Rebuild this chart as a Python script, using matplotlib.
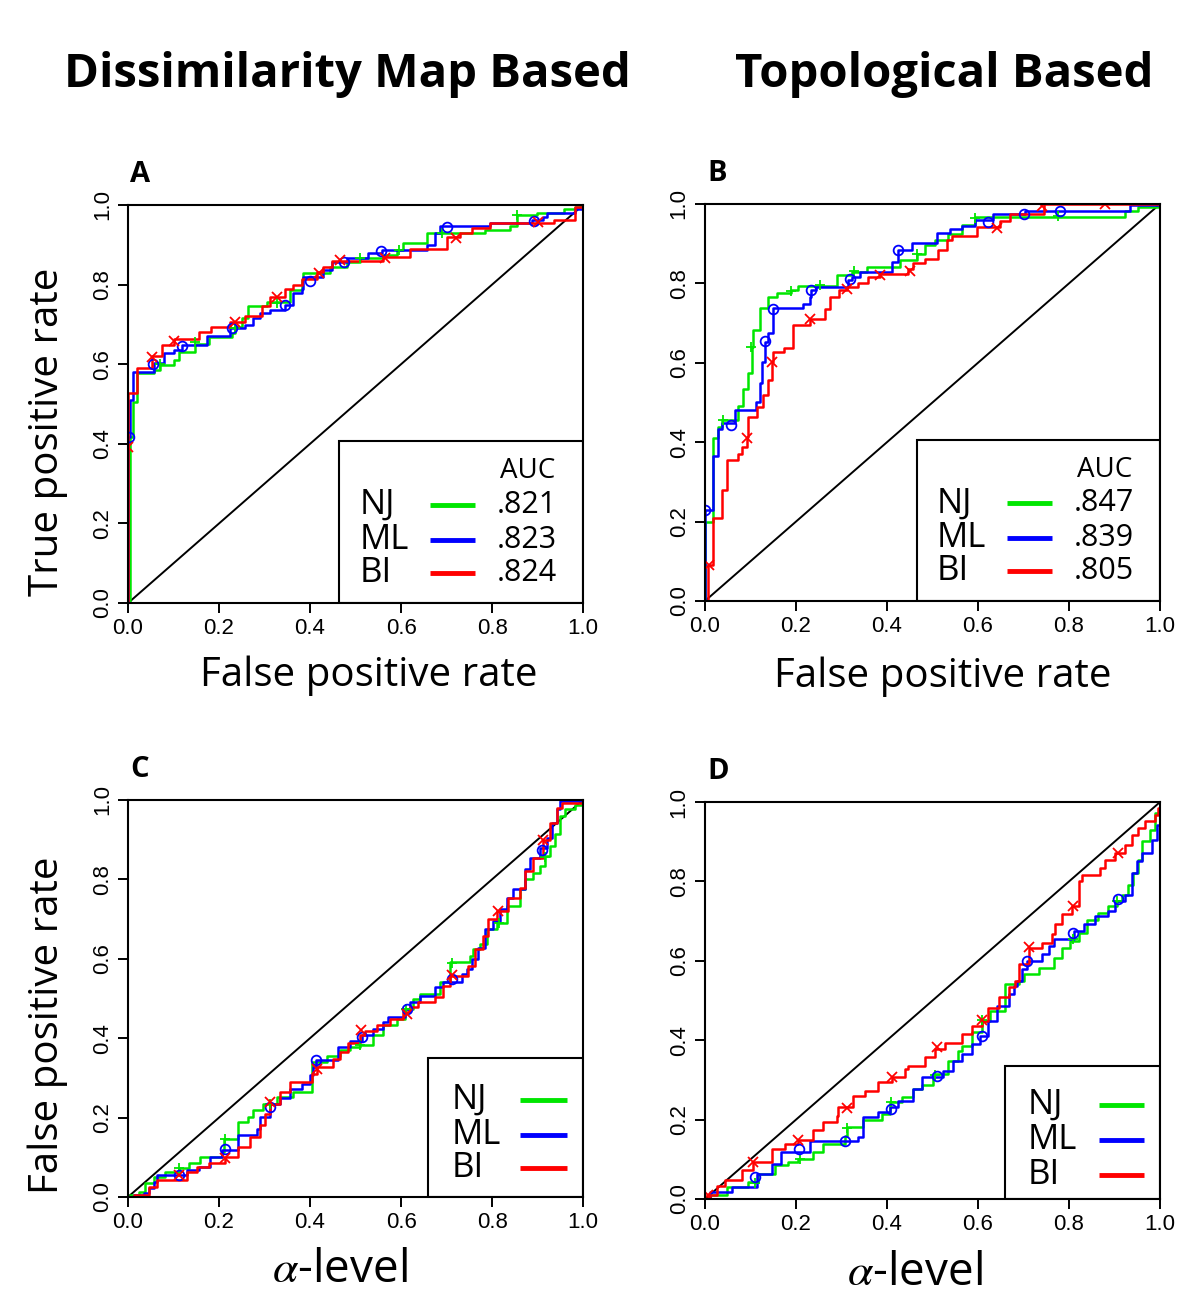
"""Four-panel ROC / false-positive-rate figure (dissimilarity map vs topological)."""

import matplotlib

matplotlib.use("Agg")
import matplotlib.pyplot as plt
import numpy as np
from matplotlib.patches import Rectangle

plt.rcParams["mathtext.fontset"] = "stix"

LABEL_FONT = "Open Sans"
TICK_FONT = "Liberation Sans"
COLORS = {"NJ": "#00e600", "ML": "#0000ff", "BI": "#ff0000"}
MARKERS = {"NJ": "+", "ML": "o", "BI": "x"}
METHODS = ["NJ", "ML", "BI"]

# ---- panel A: ROC, dissimilarity map based (fpr, tpr) step vertices ----
dm_roc_nj = [(0, 0), (0.004, 0.418), (0.01, 0.506), (0.019, 0.577), (0.056, 0.585),
             (0.07, 0.598), (0.1, 0.61), (0.113, 0.63), (0.147, 0.652), (0.177, 0.669),
             (0.228, 0.678), (0.235, 0.694), (0.25, 0.715), (0.264, 0.745), (0.305, 0.757),
             (0.356, 0.786), (0.382, 0.812), (0.385, 0.828), (0.444, 0.843), (0.481, 0.858),
             (0.51, 0.866), (0.561, 0.874), (0.59, 0.887), (0.605, 0.904), (0.656, 0.929),
             (0.785, 0.937), (0.84, 0.946), (0.854, 0.975), (0.898, 0.98), (0.957, 0.99),
             (0.982, 0.996), (1, 1)]
dm_roc_ml = [(0, 0), (0, 0.418), (0.004, 0.51), (0.01, 0.581), (0.056, 0.602),
             (0.078, 0.627), (0.1, 0.636), (0.118, 0.648), (0.174, 0.67), (0.224, 0.69),
             (0.257, 0.698), (0.275, 0.715), (0.29, 0.728), (0.312, 0.736), (0.345, 0.749),
             (0.363, 0.778), (0.382, 0.79), (0.385, 0.82), (0.429, 0.837), (0.448, 0.858),
             (0.481, 0.866), (0.528, 0.879), (0.558, 0.887), (0.656, 0.9), (0.675, 0.929),
             (0.686, 0.946), (0.796, 0.954), (0.887, 0.962), (0.913, 0.97), (0.92, 0.98),
             (0.982, 0.99), (1, 1)]
dm_roc_bi = [(0, 0), (0, 0.527), (0.019, 0.59), (0.052, 0.62), (0.074, 0.648),
             (0.1, 0.663), (0.157, 0.682), (0.182, 0.693), (0.224, 0.707), (0.257, 0.72),
             (0.294, 0.745), (0.312, 0.77), (0.345, 0.788), (0.363, 0.8), (0.382, 0.813),
             (0.415, 0.832), (0.429, 0.845), (0.448, 0.86), (0.561, 0.87), (0.62, 0.889),
             (0.7, 0.92), (0.73, 0.93), (0.755, 0.943), (0.796, 0.954), (0.935, 0.962),
             (0.982, 0.975), (0.982, 0.996), (1, 1)]
dm_roc_nj_marks = [(0.07, 0.6), (0.147, 0.655), (0.235, 0.69), (0.327, 0.755),
                   (0.51, 0.866), (0.595, 0.887), (0.69, 0.93), (0.855, 0.975)]
dm_roc_ml_marks = [(0.003, 0.418), (0.055, 0.6), (0.118, 0.646), (0.228, 0.69),
                   (0.345, 0.75), (0.4, 0.81), (0.475, 0.858), (0.555, 0.885),
                   (0.7, 0.944), (0.893, 0.96)]
dm_roc_bi_marks = [(0, 0.393), (0.052, 0.617), (0.1, 0.659), (0.236, 0.706),
                   (0.328, 0.77), (0.42, 0.83), (0.465, 0.862), (0.565, 0.868),
                   (0.72, 0.918), (0.9, 0.957)]
dm_auc = [".821", ".823", ".824"]

# ---- panel B: ROC, topological based ----
top_roc_nj = [(0, 0), (0, 0.2), (0.018, 0.41), (0.028, 0.437), (0.037, 0.455),
              (0.073, 0.49), (0.084, 0.535), (0.094, 0.575), (0.103, 0.64), (0.106, 0.682),
              (0.121, 0.737), (0.139, 0.766), (0.158, 0.776), (0.19, 0.783), (0.205, 0.793),
              (0.289, 0.82), (0.322, 0.829), (0.355, 0.84), (0.429, 0.858), (0.465, 0.875),
              (0.484, 0.896), (0.505, 0.909), (0.535, 0.925), (0.564, 0.946), (0.593, 0.967),
              (0.923, 0.983), (0.952, 0.993), (1, 1)]
top_roc_ml = [(0, 0), (0.001, 0.229), (0.018, 0.364), (0.028, 0.432), (0.037, 0.447),
              (0.066, 0.482), (0.112, 0.502), (0.121, 0.55), (0.125, 0.603), (0.132, 0.653),
              (0.139, 0.674), (0.15, 0.737), (0.216, 0.749), (0.231, 0.765), (0.234, 0.783),
              (0.245, 0.791), (0.315, 0.808), (0.322, 0.815), (0.341, 0.829), (0.41, 0.855),
              (0.425, 0.884), (0.454, 0.901), (0.509, 0.927), (0.538, 0.938), (0.564, 0.944),
              (0.593, 0.959), (0.634, 0.974), (0.703, 0.982), (0.934, 0.997), (1, 1)]
top_roc_bi = [(0, 0), (0.007, 0.091), (0.018, 0.208), (0.037, 0.279), (0.048, 0.356),
              (0.073, 0.371), (0.081, 0.388), (0.092, 0.413), (0.094, 0.464), (0.114, 0.489),
              (0.128, 0.518), (0.139, 0.556), (0.147, 0.602), (0.149, 0.627), (0.174, 0.637),
              (0.194, 0.694), (0.231, 0.711), (0.264, 0.736), (0.275, 0.766), (0.295, 0.784),
              (0.311, 0.791), (0.337, 0.801), (0.359, 0.815), (0.385, 0.824), (0.447, 0.837),
              (0.458, 0.851), (0.484, 0.862), (0.513, 0.884), (0.531, 0.909), (0.542, 0.918),
              (0.597, 0.942), (0.648, 0.958), (0.67, 0.975), (0.744, 1.0), (1, 1)]
top_roc_nj_marks = [(0.04, 0.455), (0.1, 0.64), (0.19, 0.78), (0.253, 0.796),
                    (0.327, 0.83), (0.465, 0.875), (0.594, 0.965), (0.776, 0.97)]
top_roc_ml_marks = [(0.001, 0.229), (0.057, 0.443), (0.132, 0.655), (0.15, 0.735),
                    (0.234, 0.783), (0.318, 0.81), (0.425, 0.884), (0.622, 0.955),
                    (0.7, 0.975), (0.78, 0.983)]
top_roc_bi_marks = [(0.009, 0.09), (0.092, 0.41), (0.147, 0.602), (0.231, 0.709),
                    (0.311, 0.785), (0.385, 0.82), (0.45, 0.83), (0.641, 0.939),
                    (0.74, 0.995), (0.88, 1.0)]
top_auc = [".847", ".839", ".805"]

# ---- panel C: false positive rate vs alpha level, dissimilarity map ----
dm_fpr_nj = [(0, 0), (0.004, 0.005), (0.023, 0.013), (0.037, 0.034), (0.056, 0.049),
             (0.081, 0.064), (0.111, 0.072), (0.133, 0.085), (0.158, 0.101), (0.206, 0.114),
             (0.21, 0.147), (0.242, 0.189), (0.264, 0.202), (0.275, 0.218), (0.297, 0.235),
             (0.327, 0.252), (0.363, 0.264), (0.404, 0.341), (0.437, 0.356), (0.466, 0.369),
             (0.488, 0.377), (0.51, 0.382), (0.539, 0.407), (0.561, 0.432), (0.59, 0.449),
             (0.609, 0.474), (0.627, 0.499), (0.642, 0.511), (0.686, 0.541), (0.708, 0.591),
             (0.752, 0.608), (0.759, 0.624), (0.774, 0.637), (0.788, 0.674), (0.81, 0.691),
             (0.832, 0.733), (0.862, 0.775), (0.873, 0.8), (0.891, 0.817), (0.905, 0.833),
             (0.916, 0.859), (0.927, 0.884), (0.938, 0.913), (0.949, 0.959), (0.96, 0.976),
             (0.982, 0.988), (1, 1)]
dm_fpr_ml = [(0, 0), (0.012, 0.005), (0.034, 0.009), (0.045, 0.022), (0.056, 0.038),
             (0.063, 0.055), (0.129, 0.068), (0.155, 0.076), (0.18, 0.101), (0.206, 0.118),
             (0.242, 0.156), (0.283, 0.172), (0.29, 0.202), (0.312, 0.235), (0.334, 0.248),
             (0.356, 0.273), (0.382, 0.285), (0.4, 0.306), (0.407, 0.327), (0.413, 0.346),
             (0.462, 0.377), (0.488, 0.394), (0.514, 0.407), (0.539, 0.423), (0.561, 0.44),
             (0.572, 0.453), (0.609, 0.474), (0.62, 0.49), (0.642, 0.507), (0.675, 0.528),
             (0.693, 0.541), (0.733, 0.562), (0.744, 0.574), (0.755, 0.599), (0.77, 0.628),
             (0.785, 0.674), (0.803, 0.695), (0.818, 0.725), (0.832, 0.754), (0.847, 0.775),
             (0.873, 0.825), (0.884, 0.854), (0.905, 0.879), (0.92, 0.905), (0.931, 0.942),
             (0.942, 0.976), (0.949, 0.997), (1, 1)]
dm_fpr_bi = [(0, 0), (0.012, 0.005), (0.045, 0.026), (0.063, 0.043), (0.129, 0.064),
             (0.151, 0.076), (0.177, 0.085), (0.213, 0.101), (0.242, 0.126), (0.268, 0.151),
             (0.29, 0.181), (0.301, 0.21), (0.312, 0.235), (0.334, 0.264), (0.356, 0.29),
             (0.404, 0.31), (0.415, 0.327), (0.451, 0.348), (0.466, 0.365), (0.484, 0.388),
             (0.51, 0.407), (0.521, 0.419), (0.547, 0.432), (0.576, 0.449), (0.605, 0.465),
             (0.62, 0.478), (0.638, 0.49), (0.675, 0.503), (0.693, 0.532), (0.708, 0.557),
             (0.748, 0.582), (0.763, 0.624), (0.781, 0.658), (0.792, 0.7), (0.81, 0.72),
             (0.836, 0.754), (0.862, 0.779), (0.873, 0.821), (0.891, 0.854), (0.913, 0.9),
             (0.927, 0.942), (0.942, 0.98), (0.953, 0.992), (1, 1)]
dm_fpr_nj_marks = [(0.113, 0.072), (0.213, 0.147), (0.311, 0.235), (0.51, 0.382),
                   (0.61, 0.474), (0.711, 0.59), (0.815, 0.69), (0.916, 0.857)]
dm_fpr_ml_marks = [(0.113, 0.055), (0.213, 0.12), (0.312, 0.226), (0.413, 0.345),
                   (0.514, 0.403), (0.612, 0.474), (0.711, 0.549), (0.91, 0.875)]
dm_fpr_bi_marks = [(0.113, 0.055), (0.213, 0.097), (0.312, 0.24), (0.415, 0.323),
                   (0.511, 0.421), (0.612, 0.46), (0.711, 0.56), (0.814, 0.72),
                   (0.913, 0.9)]

# ---- panel D: false positive rate vs alpha level, topological ----
top_fpr_nj = [(0, 0), (0.011, 0.009), (0.048, 0.03), (0.095, 0.043), (0.117, 0.064),
              (0.154, 0.085), (0.183, 0.093), (0.205, 0.101), (0.238, 0.118), (0.26, 0.139),
              (0.308, 0.16), (0.311, 0.181), (0.348, 0.198), (0.388, 0.214), (0.407, 0.244),
              (0.432, 0.256), (0.458, 0.277), (0.476, 0.286), (0.502, 0.315), (0.535, 0.348),
              (0.557, 0.374), (0.564, 0.386), (0.586, 0.42), (0.608, 0.449), (0.626, 0.474),
              (0.659, 0.541), (0.689, 0.549), (0.7, 0.566), (0.733, 0.583), (0.766, 0.608),
              (0.784, 0.633), (0.802, 0.65), (0.821, 0.671), (0.839, 0.704), (0.864, 0.721),
              (0.886, 0.738), (0.905, 0.75), (0.916, 0.767), (0.93, 0.792), (0.941, 0.822),
              (0.952, 0.855), (0.96, 0.901), (0.978, 0.93), (0.989, 0.972), (1, 0.985)]
top_fpr_ml = [(0, 0), (0.011, 0.018), (0.059, 0.03), (0.114, 0.064), (0.147, 0.089),
              (0.168, 0.118), (0.231, 0.145), (0.337, 0.157), (0.348, 0.206), (0.381, 0.219),
              (0.407, 0.231), (0.425, 0.248), (0.458, 0.277), (0.476, 0.307), (0.524, 0.323),
              (0.546, 0.348), (0.564, 0.365), (0.586, 0.39), (0.604, 0.411), (0.623, 0.449),
              (0.641, 0.487), (0.667, 0.516), (0.678, 0.537), (0.685, 0.549), (0.696, 0.579),
              (0.707, 0.6), (0.74, 0.616), (0.755, 0.637), (0.766, 0.654), (0.81, 0.675),
              (0.832, 0.692), (0.857, 0.713), (0.886, 0.725), (0.901, 0.75), (0.923, 0.767),
              (0.938, 0.822), (0.949, 0.851), (0.96, 0.872), (0.982, 0.905), (0.993, 0.943),
              (1, 0.95)]
top_fpr_bi = [(0, 0), (0.007, 0.009), (0.026, 0.034), (0.044, 0.047), (0.081, 0.074),
              (0.106, 0.093), (0.147, 0.126), (0.176, 0.139), (0.205, 0.149), (0.238, 0.173),
              (0.26, 0.193), (0.289, 0.21), (0.293, 0.231), (0.326, 0.26), (0.352, 0.273),
              (0.381, 0.294), (0.41, 0.308), (0.44, 0.327), (0.447, 0.336), (0.484, 0.357),
              (0.505, 0.378), (0.527, 0.394), (0.564, 0.415), (0.586, 0.436), (0.608, 0.449),
              (0.623, 0.482), (0.645, 0.508), (0.667, 0.533), (0.681, 0.549), (0.689, 0.591),
              (0.711, 0.633), (0.74, 0.646), (0.762, 0.667), (0.769, 0.692), (0.784, 0.717),
              (0.806, 0.738), (0.821, 0.801), (0.828, 0.817), (0.868, 0.834), (0.879, 0.855),
              (0.901, 0.872), (0.923, 0.893), (0.938, 0.918), (0.952, 0.935), (0.967, 0.951),
              (0.989, 0.968), (0.996, 0.985), (1, 1)]
top_fpr_nj_marks = [(0.11, 0.04), (0.208, 0.101), (0.311, 0.18), (0.409, 0.245),
                    (0.506, 0.313), (0.608, 0.45), (0.808, 0.655), (0.905, 0.75)]
top_fpr_ml_marks = [(0.11, 0.055), (0.206, 0.127), (0.308, 0.147), (0.409, 0.227),
                    (0.509, 0.31), (0.608, 0.41), (0.708, 0.6), (0.809, 0.67),
                    (0.908, 0.755)]
top_fpr_bi_marks = [(0.007, 0.01), (0.106, 0.093), (0.205, 0.149), (0.311, 0.229),
                    (0.41, 0.308), (0.509, 0.382), (0.608, 0.45), (0.711, 0.635),
                    (0.808, 0.738), (0.908, 0.872)]

TICKS = [0.0, 0.2, 0.4, 0.6, 0.8, 1.0]


def draw_panel(ax, curves, marks, letter):
    ax.plot([0, 1], [0, 1], color="black", lw=1.4, zorder=2)
    for m in METHODS:
        pts = np.array(curves[m])
        ax.plot(pts[:, 0], pts[:, 1], drawstyle="steps-post", color=COLORS[m],
                lw=1.8, zorder=3)
        mk = np.array(marks[m])
        face = "none" if m == "ML" else COLORS[m]
        ax.plot(mk[:, 0], mk[:, 1], ls="none", marker=MARKERS[m], ms=7,
                mew=1.3, mfc=face, mec=COLORS[m], zorder=4)
    ax.set_xlim(0, 1)
    ax.set_ylim(0, 1)
    ax.set_xticks(TICKS)
    ax.set_yticks(TICKS)
    ax.set_xticklabels([f"{t:.1f}" for t in TICKS], fontsize=16, family=TICK_FONT)
    ax.set_yticklabels([f"{t:.1f}" for t in TICKS], fontsize=16, family=TICK_FONT,
                       rotation=90, va="center")
    ax.tick_params(direction="out", length=7, width=1.4, pad=4)
    for s in ax.spines.values():
        s.set_linewidth(1.5)
        s.set_zorder(7)
    ax.text(0.005, 1.04, letter, transform=ax.transAxes, fontsize=21,
            fontweight="bold", family=LABEL_FONT, ha="left", va="bottom")


def draw_legend(ax, left, top, rows_y, text_x, line_x, auc=None, auc_x=None):
    ax.add_patch(Rectangle((left, 0), 1 - left, top, transform=ax.transAxes,
                           facecolor="white", edgecolor="black", lw=1.5, zorder=5))
    for m, y in zip(METHODS, rows_y):
        ax.text(text_x, y, m, transform=ax.transAxes, fontsize=25, family=LABEL_FONT,
                va="center", ha="left", zorder=6)
        ax.plot(line_x, [y, y], transform=ax.transAxes, color=COLORS[m], lw=3.5,
                zorder=6, solid_capstyle="butt")
    if auc is not None:
        ax.text(auc_x, rows_y[0] + 0.085, "AUC", transform=ax.transAxes, fontsize=20,
                family=LABEL_FONT, va="center", ha="left", zorder=6)
        for v, y in zip(auc, rows_y):
            ax.text(auc_x - 0.008, y, v, transform=ax.transAxes, fontsize=22,
                    family=LABEL_FONT, va="center", ha="left", zorder=6)


fig = plt.figure(figsize=(12, 13.09), dpi=100)
ax_a = fig.add_axes([0.1067, 0.5393, 0.3792, 0.3041])
ax_b = fig.add_axes([0.5875, 0.5409, 0.3792, 0.3033])
ax_c = fig.add_axes([0.1067, 0.0856, 0.3792, 0.3033])
ax_d = fig.add_axes([0.5875, 0.0840, 0.3792, 0.3033])

draw_panel(ax_a, {"NJ": dm_roc_nj, "ML": dm_roc_ml, "BI": dm_roc_bi},
           {"NJ": dm_roc_nj_marks, "ML": dm_roc_ml_marks, "BI": dm_roc_bi_marks}, "A")
draw_panel(ax_b, {"NJ": top_roc_nj, "ML": top_roc_ml, "BI": top_roc_bi},
           {"NJ": top_roc_nj_marks, "ML": top_roc_ml_marks, "BI": top_roc_bi_marks}, "B")
draw_panel(ax_c, {"NJ": dm_fpr_nj, "ML": dm_fpr_ml, "BI": dm_fpr_bi},
           {"NJ": dm_fpr_nj_marks, "ML": dm_fpr_ml_marks, "BI": dm_fpr_bi_marks}, "C")
draw_panel(ax_d, {"NJ": top_fpr_nj, "ML": top_fpr_ml, "BI": top_fpr_bi},
           {"NJ": top_fpr_nj_marks, "ML": top_fpr_ml_marks, "BI": top_fpr_bi_marks}, "D")

draw_legend(ax_a, 0.464, 0.407, [0.246, 0.158, 0.075], 0.51, [0.664, 0.763],
            dm_auc, 0.818)
draw_legend(ax_b, 0.466, 0.406, [0.246, 0.158, 0.075], 0.51, [0.664, 0.763],
            top_auc, 0.818)
draw_legend(ax_c, 0.659, 0.35, [0.244, 0.156, 0.073], 0.712, [0.862, 0.965])
draw_legend(ax_d, 0.659, 0.335, [0.237, 0.149, 0.06], 0.708, [0.866, 0.965])

ax_a.set_ylabel("True positive rate", fontsize=29, family=LABEL_FONT)
ax_a.yaxis.set_label_coords(-0.176, 0.43)
ax_a.set_xlabel("False positive rate", fontsize=29, family=LABEL_FONT)
ax_a.xaxis.set_label_coords(0.53, -0.183)
ax_b.set_xlabel("False positive rate", fontsize=29, family=LABEL_FONT)
ax_b.xaxis.set_label_coords(0.523, -0.19)
ax_c.set_ylabel("False positive rate", fontsize=29, family=LABEL_FONT)
ax_c.yaxis.set_label_coords(-0.176, 0.433)
ax_c.set_xlabel(r"$\alpha$-level", fontsize=33, family=LABEL_FONT)
ax_c.xaxis.set_label_coords(0.466, -0.184)
ax_d.set_xlabel(r"$\alpha$-level", fontsize=33, family=LABEL_FONT)
ax_d.xaxis.set_label_coords(0.462, -0.186)
for lab in (ax_a.xaxis.label, ax_b.xaxis.label, ax_c.xaxis.label, ax_d.xaxis.label):
    lab.set_va("center")
for lab in (ax_a.yaxis.label, ax_c.yaxis.label):
    lab.set_va("center")

fig.text(347 / 1200, 1 - 75 / 1309, "Dissimilarity Map Based", fontsize=34,
         fontweight="bold", family=LABEL_FONT, ha="center", va="center")
fig.text(944 / 1200, 1 - 75 / 1309, "Topological Based", fontsize=34,
         fontweight="bold", family=LABEL_FONT, ha="center", va="center")

fig.savefig("out.png", dpi=100)
